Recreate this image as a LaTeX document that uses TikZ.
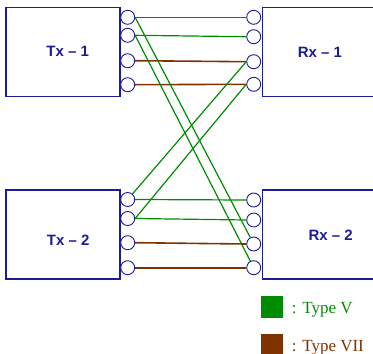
\documentclass[tikz,border=0pt]{standalone}
\usepackage{fontspec}
\setmainfont{Liberation Serif}
\setsansfont{Liberation Sans}
\definecolor{boxblue}{RGB}{28,28,150}
\definecolor{tgreen}{RGB}{0,140,0}
\definecolor{tbrown}{RGB}{128,50,0}
\begin{document}
\begin{tikzpicture}[x=1pt,y=-1pt,
  box/.style={draw=boxblue,line width=1.5pt,rectangle,inner sep=0pt},
  port/.style={circle,draw=boxblue,fill=white,line width=0.9pt,minimum size=14pt,inner sep=0pt},
  lbl/.style={font=\sffamily\bfseries\fontsize{15}{18}\selectfont,text=boxblue,inner sep=0pt},
  tv/.style={draw=tgreen,line width=1.2pt},
  tvii/.style={draw=tbrown,line width=1.6pt},
  legsq/.style={minimum size=22pt,inner sep=0pt,rectangle},
  legtxt/.style={font=\fontsize{17}{20}\selectfont,inner sep=0pt,anchor=base west}]
\useasboundingbox (0,0) rectangle (373,354);
% boxes
\node[box,minimum width=114pt,minimum height=89pt] (tx1) at (63,51.8) {};
\node[box,minimum width=122pt,minimum height=89pt] (rx1) at (323.7,51.8) {};
\node[box,minimum width=114pt,minimum height=89pt] (tx2) at (63,234.5) {};
\node[box,minimum width=122pt,minimum height=89pt] (rx2) at (323.7,234.5) {};
% labels
\node[lbl] (ltx1) at (67.7,51.7) {Tx – 1};
\node[lbl] (lrx1) at (320,52) {Rx – 1};
\node[lbl] (ltx2) at (68.2,240) {Tx – 2};
\node[lbl] (lrx2) at (330.7,235.3) {Rx – 2};
% ports
\node[port] (t1a) at (127.7,17.3) {};
\node[port] (t1b) at (127.7,35.3) {};
\node[port] (t1c) at (127.7,60.7) {};
\node[port] (t1d) at (127.7,84.7) {};
\node[port] (r1a) at (253.7,17.3) {};
\node[port] (r1b) at (253.7,36.7) {};
\node[port] (r1c) at (253.7,61.7) {};
\node[port] (r1d) at (253.7,84.3) {};
\node[port] (t2a) at (127.7,199.5) {};
\node[port] (t2b) at (127.7,218.5) {};
\node[port] (t2c) at (127.7,242.7) {};
\node[port] (t2d) at (127.7,267.7) {};
\node[port] (r2a) at (253.7,200) {};
\node[port] (r2b) at (253.7,220) {};
\node[port] (r2c) at (253.7,244) {};
\node[port] (r2d) at (253.7,267.7) {};
% connectors
\draw[tv] (t1a.east) -- (r1a.west);
\draw[tv] (t1b.east) -- (r1b.west);
\draw[tvii] (t1c.east) -- (r1c.west);
\draw[tvii] (t1d.east) -- (r1d.west);
\draw[tv] (t1a.east) -- (r2c);
\draw[tv] (t1b.east) -- (r2d);
\draw[tv] (r1c.west) -- (t2a);
\draw[tv] (r1d.west) -- (t2b.east);
\draw[tv] (t2a.east) -- (r2a.west);
\draw[tv] (t2b.east) -- (r2b.west);
\draw[tvii] (t2c.east) -- (r2c.west);
\draw[tvii] (t2d.east) -- (r2d.west);
% legend
\node[legsq,fill=tgreen] (lgv) at (272,306.8) {};
\node[legsq,fill=tbrown] (lgvii) at (272,345) {};
\node[legtxt,text=tgreen] (ltv) at (291.7,313.3) {: Type V};
\node[legtxt,text=tbrown] (ltvii) at (291.7,351.7) {: Type VII};
\end{tikzpicture}
\end{document}
